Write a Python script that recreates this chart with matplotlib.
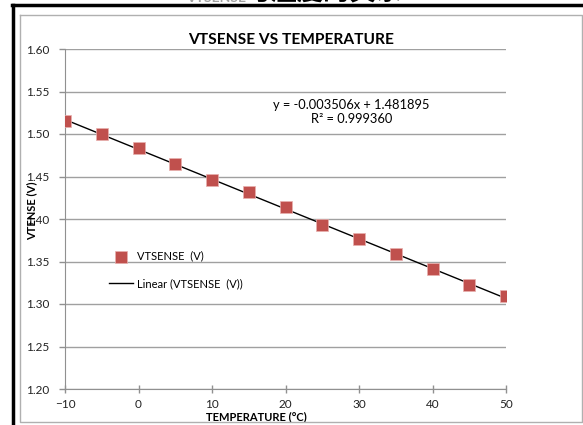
import matplotlib
matplotlib.use("Agg")
import matplotlib.pyplot as plt
from matplotlib.lines import Line2D
import numpy as np

plt.rcParams['font.family'] = ['Lato', 'Noto Sans CJK SC', 'DejaVu Sans']

temperature = [-10, -5, 0, 5, 10, 15, 20, 25, 30, 35, 40, 45, 50]
vtsense = [1.515, 1.500, 1.483, 1.465, 1.446, 1.432, 1.414, 1.393, 1.376, 1.359, 1.341, 1.322, 1.309]
slope = -0.003506
intercept = 1.481895
r2 = 0.999360
x_ticks = [-10, 0, 10, 20, 30, 40, 50]
y_ticks = [1.20, 1.25, 1.30, 1.35, 1.40, 1.45, 1.50, 1.55, 1.60]

W, H = 583, 425
fig = plt.figure(figsize=(W / 100, H / 100), dpi=100)

def fx(px):
    return px / W

def fy(py):
    return 1 - py / H

# rahmen der seite / des diagramms
fig.add_artist(Line2D([fx(12), fx(583)], [fy(5), fy(5)], color='black', lw=2.5))
fig.add_artist(Line2D([fx(13), fx(13)], [fy(5), fy(425)], color='black', lw=2.5))
fig.add_artist(Line2D([fx(20), fx(581.5), fx(581.5), fx(20), fx(20)],
                      [fy(15), fy(15), fy(421.5), fy(421.5), fy(15)],
                      color='#b0b0b0', lw=1))
# abgeschnittene ueberschrift oben
fig.text(fx(186), fy(1.5), 'VTSENSE', ha='left', va='baseline',
         fontsize=10, fontweight='bold', color='#a0a0a0')
fig.text(fx(245), fy(0.5), '与温度的关系', ha='left', va='baseline',
         fontsize=19, fontweight='bold', color='black')

ax = fig.add_axes([fx(65), fy(389), fx(506) - fx(65), (389 - 49) / H])

xs = np.array([temperature[0], temperature[-1]])
ax.plot(xs, slope * xs + intercept, color='black', lw=1, label='Linear (VTSENSE  (V))', zorder=2)
ax.scatter(temperature, vtsense, marker='s', s=64, color='#C0504D', edgecolors='#E8B0AE',
           linewidths=0.5, label='VTSENSE  (V)', zorder=3)

ax.set_xlim(-10, 50)
ax.set_ylim(1.20, 1.60)
ax.set_xticks(x_ticks)
ax.set_yticks(y_ticks)
ax.set_yticklabels([f'{v:.2f}' for v in y_ticks])
ax.yaxis.grid(True, color='#a0a0a0', lw=1)
ax.set_axisbelow(True)
for s in ['top', 'right']:
    ax.spines[s].set_visible(False)
for s in ['left', 'bottom']:
    ax.spines[s].set_color('#909090')
ax.tick_params(axis='both', colors='#909090', labelcolor='#222222', labelsize=8.5, length=4, width=1)
ax.tick_params(axis='y', pad=7)
ax.tick_params(axis='x', direction='inout', length=6, pad=4)

ax.set_xlabel('TEMPERATURE (°C)', fontsize=8, fontweight='bold')
ax.xaxis.set_label_coords(0.435, -0.064)
ax.set_ylabel('VTENSE (V)', fontsize=8, fontweight='bold')
ax.yaxis.set_label_coords(-0.063, 0.524)
fig.text(0.5, fy(40), 'VTSENSE VS TEMPERATURE', ha='center', va='center',
         fontsize=11.2, fontweight='bold')

ax.text(0.649, 0.815, f'y = {slope:.6f}x + {intercept:.6f}\nR² = {r2:.6f}',
        transform=ax.transAxes, ha='center', va='center', fontsize=9.3, linespacing=1.25)

handles, labels = ax.get_legend_handles_labels()
ax.legend(handles[::-1], labels[::-1], loc='center left', bbox_to_anchor=(0.078, 0.35), frameon=False,
          fontsize=8, handlelength=2.1, labelspacing=1.5, handletextpad=0.35)

fig.savefig('out.png', dpi=100)
